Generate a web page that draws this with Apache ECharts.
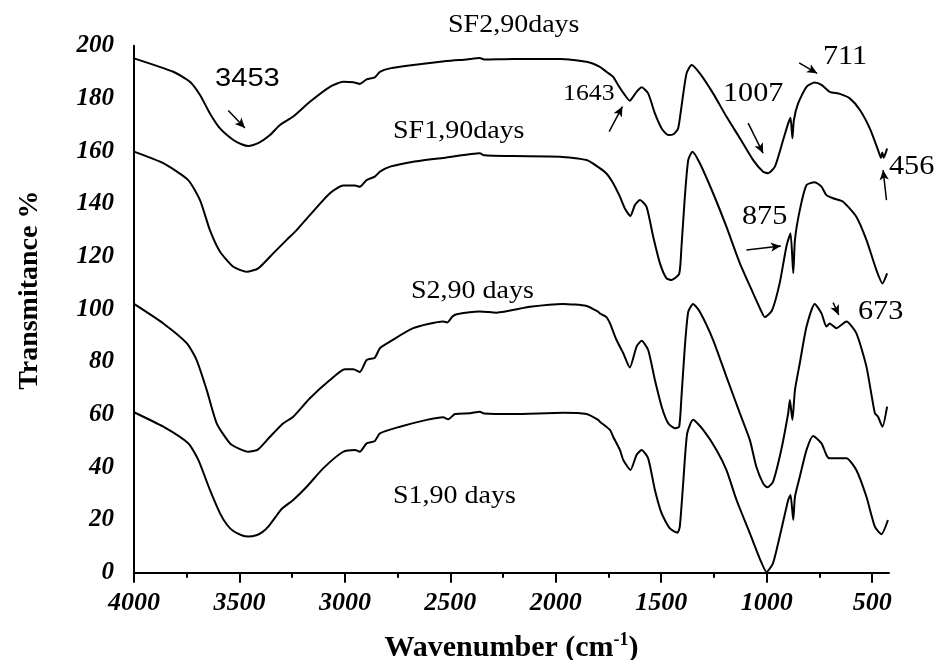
<!DOCTYPE html>
<html>
<head>
<meta charset="utf-8">
<script src="https://cdn.jsdelivr.net/npm/echarts@6/dist/echarts.min.js"></script>
<style>html,body{margin:0;padding:0;background:#fff}#c{width:938px;height:660px}</style>
</head>
<body>
<div id="c"></div>
<script>
// ---------- data (wavenumber cm-1, transmitance %) ----------
const sf2Wave = [4000,3814,3735,3687,3640,3592,3529,3490,3458,3411,3355,3308,3245,3166,3071,3008,2960,2929,2897,2858,2834,2786,2676,2518,2423,2360,2340,2202,1980,1854,1791,1760,1728,1700,1673,1649,1630,1617,1593,1562,1530,1498,1467,1440,1420,1404,1380,1356,1317,1254,1191,1127,1064,1017,993,961,922,898,887,878,871,851,811,772,740,701,653,606,558,511,472,458,452,445,429];
const sf2T    = [195.2,190.1,186.3,181.3,174.3,168.6,164.2,162.6,161.9,163,166.1,169.9,173.1,178.7,184.4,186.3,186.1,185.5,187.2,188,190.1,191.4,192.7,194.2,194.8,195.3,194.8,195,195,193.9,192,190.1,188.2,184.5,181.3,179.1,181,182.5,184.2,181.9,174.3,168.6,166.1,166.5,168.6,176.9,189.5,192.7,189.5,181.9,173.1,164.9,156.6,152.2,151.6,154.1,164.2,170.5,172.7,164.9,171.8,178.1,184.4,186,185.1,182.5,181.7,180,175.6,168.6,160.4,157.5,159.5,157.5,161];

const sf1Wave = [4000,3861,3743,3687,3640,3592,3529,3466,3411,3340,3276,3229,3166,3071,3008,2952,2929,2897,2858,2834,2786,2676,2518,2360,2340,2202,1980,1854,1800,1760,1728,1696,1673,1646,1625,1601,1570,1538,1506,1475,1451,1415,1404,1388,1372,1352,1317,1254,1191,1127,1064,1030,1009,975,938,906,887,874,866,843,811,772,740,717,685,638,575,527,480,451,429];
const sf1T    = [159.8,155.4,149,141.4,130,121.8,116.1,114.2,115.5,121.2,126.3,130,135.7,144,146.9,146.9,146.5,149,150.3,152.2,154.1,156,157.6,159.2,158.4,158.1,157.9,156.6,154,151.5,147.8,142.7,138.3,135.4,139.5,141.4,138.9,127.5,117.4,111.7,111.1,113.4,123.7,142.7,156.6,159.8,155.4,144,131.3,117.4,106,100,97,99.5,110,124,128.8,113.6,126.3,137.6,147.1,148.2,146.5,143.3,142.1,140.8,135.1,126.3,114.9,109.8,113.6];

const s2Wave = [4000,3861,3750,3703,3655,3608,3545,3500,3458,3411,3355,3292,3245,3166,3071,3000,2960,2929,2897,2858,2834,2786,2676,2534,2515,2490,2470,2360,2281,2123,1965,1854,1799,1791,1760,1743,1712,1680,1649,1617,1593,1562,1530,1498,1467,1435,1415,1404,1388,1372,1349,1317,1254,1191,1127,1080,1049,1017,997,970,931,898,890,878,866,843,811,772,740,717,701,670,622,575,527,487,472,451,429];
const s2T    = [102,94.6,87.1,80.7,69.3,56.7,49.1,47,45.9,46.8,51.6,56.7,59.2,66.2,73.1,77.2,77.2,76.2,80.7,81.6,85.2,87.7,92.8,95.3,95,97.2,98.1,99.1,98.7,100.9,102,101.2,99,98.4,97,94.6,88.3,83.3,77.9,85.8,88,84.5,73.1,63,56.7,54.8,55.4,66.8,85.8,99,102,99,88.3,74.4,60.5,50.4,40.2,33.9,32.4,34.5,46.6,60.5,65.5,58,69.3,79.5,93.4,102,98.4,93.4,94.6,92.8,95.3,90.9,78.2,60.5,59.2,55.4,63];

const s1Wave = [4000,3861,3743,3695,3640,3592,3560,3529,3490,3458,3420,3390,3360,3330,3300,3245,3181,3103,3008,2952,2929,2897,2858,2834,2739,2612,2534,2510,2478,2407,2360,2340,2202,1965,1854,1799,1791,1743,1728,1696,1680,1646,1617,1593,1562,1530,1498,1459,1423,1412,1396,1377,1349,1301,1238,1191,1143,1080,1030,1001,970,931,898,887,874,866,843,811,780,740,717,701,670,622,575,527,487,456,425];
const s1T    = [60.9,55.4,49.1,42.8,31.4,22.5,18.3,15.8,14.2,13.7,14.2,15.5,17.8,21,24.2,27.6,32.6,39.6,45.9,46.6,45.9,49.1,50,52.9,55.4,58,59,58.2,60.2,60.5,61.1,60.4,60.2,60.7,60.2,58,57.3,54.2,51.6,46.6,42.8,39,44.7,46.6,43.4,31.4,22.5,16.8,15.2,17.5,33.9,52.9,58,54.2,46.6,39,27.6,15,4.8,0.3,3.6,16.2,27.6,29.5,20,28.8,36.4,46.6,51.9,49.1,44.7,43.4,43.4,43.4,39,28.8,17.5,14.6,20];

const majorTicks = [4000,3500,3000,2500,2000,1500,1000,500];
const minorTicks = [3750,3250,2750,2250,1750,1250,750];

// annotation arrows (data coordinates): tail -> head
const arrowTails = [[3553,175.4],[1747,167.4],[1088,170.6],[846,193.5],[432,141.4],[1096,122.5],[685,102.5]];
const arrowHeads = [[3474,168.8],[1684,176.9],[1017,159.2],[761,189.5],[448,152.8],[933,124],[658,97.8]];

const sampleNames = ['SF2,90days','SF1,90days','S2,90 days','S1,90 days'];
const peakNames = ['3453','1643','1007','711','456','875','673'];

// ---------- build ----------
const pairs = (xs, ys) => xs.map((x, i) => [x, ys[i]]);
const SERIF = 'Liberation Serif';
const SANS = 'Liberation Sans';

function curve(name, xs, ys, extra) {
  return Object.assign({
    name, type: 'line', data: pairs(xs, ys), showSymbol: false, smooth: 0.2,
    lineStyle: { color: '#000', width: 2 }, itemStyle: { color: '#000' }, silent: true, z: 3
  }, extra || {});
}

const arrowLines = arrowTails.map((t, i) => [{ coord: t }, { coord: arrowHeads[i] }]);

// text placement (pixels: left, vertical centre of caps)
const sampleLayout = [[448, 25], [393, 131], [411, 291], [393, 496]];
const peakLayout = [
  { x: 215, y: 79, font: '26px "' + SANS + '"' },
  { x: 563, y: 94, font: '23px "' + SERIF + '"' },
  { x: 723, y: 94, font: '27px "' + SERIF + '"' },
  { x: 823, y: 57, font: '27px "' + SERIF + '"' },
  { x: 889, y: 167, font: '27px "' + SERIF + '"' },
  { x: 742, y: 217, font: '27px "' + SERIF + '"' },
  { x: 858, y: 312, font: '27px "' + SERIF + '"' }
];
const stretch = 1.12;
const graphics = [];
sampleNames.forEach((t, i) => graphics.push({
  type: 'text', x: sampleLayout[i][0], y: sampleLayout[i][1], scaleX: stretch, z: 10,
  style: { text: t, font: '25px "' + SERIF + '"', fill: '#000', align: 'left', verticalAlign: 'middle' }
}));
peakNames.forEach((t, i) => graphics.push({
  type: 'text', x: peakLayout[i].x, y: peakLayout[i].y, scaleX: stretch, z: 10,
  style: { text: t, font: peakLayout[i].font, fill: '#000', align: 'left', verticalAlign: 'middle' }
}));

const chart = echarts.init(document.getElementById('c'), null, { renderer: 'canvas' });
chart.setOption({
  animation: false,
  backgroundColor: '#fff',
  grid: { left: 134, right: 49, top: 45.7, bottom: 87.3, containLabel: false, outerBoundsMode: 'none' },
  xAxis: [{
    type: 'value', inverse: true, min: 420, max: 4000,
    name: '{a|Wavenumber (cm}{s|-1}{a|)}', nameLocation: 'middle', nameGap: 59,
    nameTextStyle: {
      rich: {
        a: { fontFamily: SERIF, fontWeight: 'bold', fontSize: 30, color: '#000', lineHeight: 34 },
        s: { fontFamily: SERIF, fontWeight: 'bold', fontSize: 18, color: '#000', verticalAlign: 'top', lineHeight: 34, padding: [0, 0, 14, 0] }
      }
    },
    axisLine: { show: true, lineStyle: { color: '#000', width: 2 } },
    axisTick: { show: true, customValues: majorTicks, length: 10, inside: false, lineStyle: { color: '#000', width: 2 } },
    axisLabel: {
      customValues: majorTicks, margin: 18, color: '#000', fontFamily: SERIF, fontWeight: 'bold', fontStyle: 'italic', fontSize: 26,
      formatter: v => String(v)
    },
    splitLine: { show: false }
  }, {
    type: 'value', inverse: true, min: 420, max: 4000, position: 'bottom',
    axisLine: { show: false },
    axisTick: { show: true, customValues: minorTicks, length: 5, inside: false, lineStyle: { color: '#000', width: 2 } },
    axisLabel: { show: false },
    splitLine: { show: false }
  }],
  yAxis: {
    type: 'value', min: 0, max: 200, interval: 20,
    name: 'Transmitance %', nameLocation: 'middle', nameGap: 90, nameRotate: 90,
    nameTextStyle: { fontFamily: SERIF, fontWeight: 'bold', fontSize: 28, color: '#000', padding: [0, 0, 0, 38] },
    axisLine: { show: true, lineStyle: { color: '#000', width: 2 } },
    axisTick: { show: false },
    axisLabel: { margin: 20, color: '#000', fontFamily: SERIF, fontWeight: 'bold', fontStyle: 'italic', fontSize: 25, formatter: v => String(v) },
    splitLine: { show: false }
  },
  series: [
    curve('SF2,90days', sf2Wave, sf2T, {
      markLine: {
        silent: true, symbol: ['none', 'arrow'], symbolSize: [7, 10], precision: 2,
        lineStyle: { color: '#000', width: 1.5, type: 'solid' },
        label: { show: false }, emphasis: { disabled: true },
        data: arrowLines
      }
    }),
    curve('SF1,90days', sf1Wave, sf1T),
    curve('S2,90 days', s2Wave, s2T),
    curve('S1,90 days', s1Wave, s1T)
  ],
  graphic: graphics
});
</script>
</body>
</html>
